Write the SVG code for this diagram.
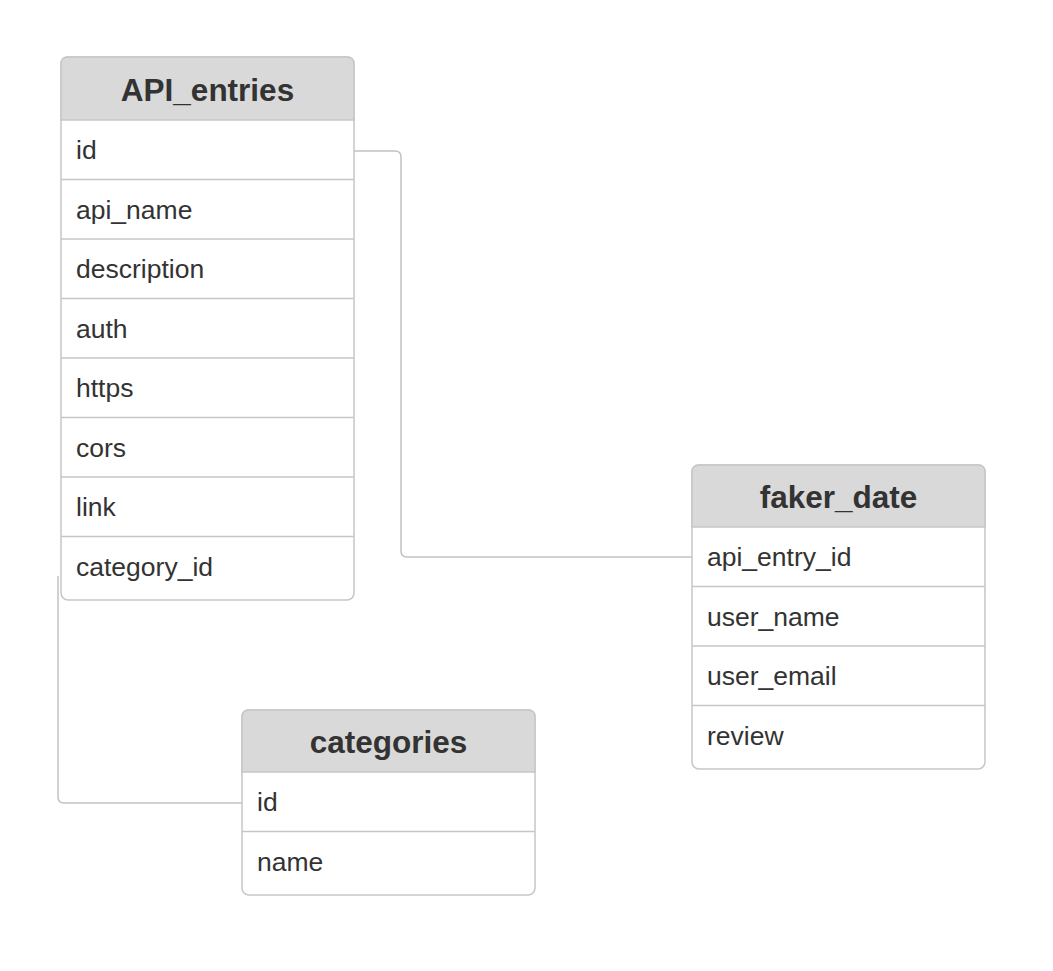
<svg xmlns="http://www.w3.org/2000/svg" width="1053" height="971" viewBox="0 0 1053 971">
<style>
.box{fill:#ffffff;stroke:#c6c6c6;stroke-width:1.5}
.hdr{fill:#d9d9d9;stroke:#c6c6c6;stroke-width:1.5}
.sep{stroke:#c6c6c6;stroke-width:1.5}
.title{font-family:"Liberation Sans",Arial,sans-serif;font-size:31.5px;font-weight:bold;fill:#333333;text-anchor:middle}
.field{font-family:"Liberation Sans",Arial,sans-serif;font-size:26.5px;fill:#333333}
.conn{fill:none;stroke:#c2c2c2;stroke-width:1.5}
</style>
<rect width="1053" height="971" fill="#ffffff"/>
<g id="connectors">
<path class="conn" d="M354,151 H395 Q401,151 401,157 V551 Q401,557 407,557 H692"/>
<path class="conn" d="M58,576 V797 Q58,803 64,803 H242"/>
</g>
<g id="API_entries">
<rect class="box" x="61" y="57" width="293" height="543" rx="7"/>
<path class="hdr" d="M61,120 V64 Q61,57 68,57 H347 Q354,57 354,64 V120 Z"/>
<line class="sep" x1="61" y1="179.5" x2="354" y2="179.5"/>
<line class="sep" x1="61" y1="239" x2="354" y2="239"/>
<line class="sep" x1="61" y1="298.5" x2="354" y2="298.5"/>
<line class="sep" x1="61" y1="358" x2="354" y2="358"/>
<line class="sep" x1="61" y1="417.5" x2="354" y2="417.5"/>
<line class="sep" x1="61" y1="477" x2="354" y2="477"/>
<line class="sep" x1="61" y1="536.5" x2="354" y2="536.5"/>
<text class="title" x="207.5" y="101">API_entries</text>
<text class="field" x="76" y="159">id</text>
<text class="field" x="76" y="218.5">api_name</text>
<text class="field" x="76" y="278">description</text>
<text class="field" x="76" y="337.5">auth</text>
<text class="field" x="76" y="397">https</text>
<text class="field" x="76" y="456.5">cors</text>
<text class="field" x="76" y="516">link</text>
<text class="field" x="76" y="575.5">category_id</text>
</g>
<g id="faker_date">
<rect class="box" x="692" y="465" width="293" height="304" rx="7"/>
<path class="hdr" d="M692,527 V472 Q692,465 699,465 H978 Q985,465 985,472 V527 Z"/>
<line class="sep" x1="692" y1="586.5" x2="985" y2="586.5"/>
<line class="sep" x1="692" y1="646" x2="985" y2="646"/>
<line class="sep" x1="692" y1="705.5" x2="985" y2="705.5"/>
<text class="title" x="838.5" y="508">faker_date</text>
<text class="field" x="707" y="566">api_entry_id</text>
<text class="field" x="707" y="625.5">user_name</text>
<text class="field" x="707" y="685">user_email</text>
<text class="field" x="707" y="744.5">review</text>
</g>
<g id="categories">
<rect class="box" x="242" y="710" width="293" height="185" rx="7"/>
<path class="hdr" d="M242,772 V717 Q242,710 249,710 H528 Q535,710 535,717 V772 Z"/>
<line class="sep" x1="242" y1="831.5" x2="535" y2="831.5"/>
<text class="title" x="388.5" y="753">categories</text>
<text class="field" x="257" y="811">id</text>
<text class="field" x="257" y="870.5">name</text>
</g>
</svg>
